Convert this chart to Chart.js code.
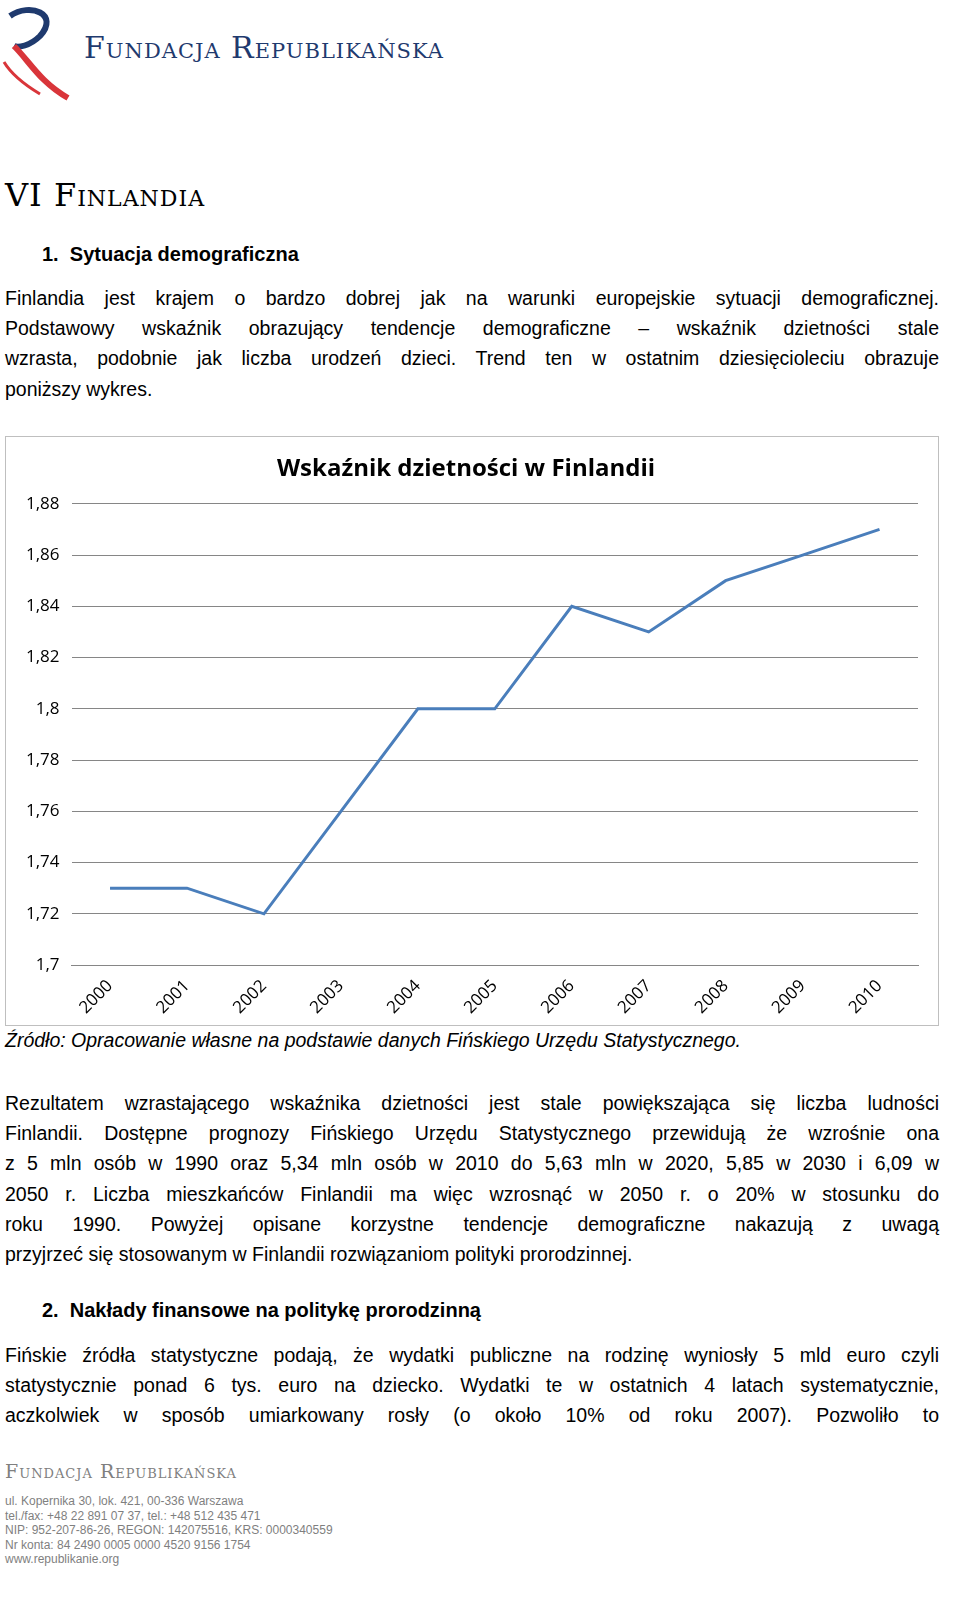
<!DOCTYPE html>
<html><head><meta charset="utf-8">
<script src="https://cdn.jsdelivr.net/npm/chart.js@4"></script>
<style>
body{margin:0;width:960px;height:1597px;background:#fff;font-family:"Liberation Sans",Arial,sans-serif;color:#000;position:relative;overflow:hidden}
.abs{position:absolute}
p{margin:0}
.txt{font-size:19.5px;line-height:30.2px;text-align:justify;left:5px;width:934px}
.txt span{display:block;text-align-last:justify}
.txt span.last{text-align-last:left}
#box{left:5px;top:436px;width:932px;height:588px;border:1px solid #bfbfbf}
.foot{font-size:12px;color:#7f7f7f;line-height:14.6px;left:5px}
</style></head><body>
<svg class="abs" style="left:0;top:2px" width="80" height="100">
  <path d="M10 14 C30 0,60 12,40 34 C30 44,18 46,14 44" stroke="#1f3a6e" stroke-width="6" fill="none"/>
  <path d="M14 44 C30 60,40 80,68 96" stroke="#d9353a" stroke-width="6" fill="none"/>
  <path d="M4 60 C10 70,20 80,40 92" stroke="#d9353a" stroke-width="3" fill="none"/>
</svg>
<div class="abs" style="left:84px;top:30px;font-family:'DejaVu Serif',serif;font-size:30px;color:#1f3a6e;letter-spacing:1px;font-variant:small-caps">Fundacja Republikańska</div>
<div class="abs" style="left:5px;top:176px;font-family:'DejaVu Serif',serif;font-size:32px;font-variant:small-caps;letter-spacing:1px">VI Finlandia</div>
<div class="abs" style="left:42px;top:243px;font-size:20px;font-weight:bold">1.&nbsp;&nbsp;Sytuacja demograficzna</div>
<div class="abs txt" style="top:283px">
<span>Finlandia jest krajem o bardzo dobrej jak na warunki europejskie sytuacji demograficznej.</span>
<span>Podstawowy wskaźnik obrazujący tendencje demograficzne – wskaźnik dzietności stale</span>
<span>wzrasta, podobnie jak liczba urodzeń dzieci. Trend ten w ostatnim dziesięcioleciu obrazuje</span>
<span class="last">poniższy wykres.</span></div>
<div id="box" class="abs"><canvas id="c" width="932" height="588"></canvas></div>
<div class="abs" style="left:5px;top:1029px;font-size:19.5px;font-style:italic">Źródło: Opracowanie własne na podstawie danych Fińskiego Urzędu Statystycznego.</div>
<div class="abs txt" style="top:1088px">
<span>Rezultatem wzrastającego wskaźnika dzietności jest stale powiększająca się liczba ludności</span>
<span>Finlandii. Dostępne prognozy Fińskiego Urzędu Statystycznego przewidują że wzrośnie ona</span>
<span>z 5 mln osób w 1990 oraz 5,34 mln osób w 2010 do 5,63 mln w 2020, 5,85 w 2030 i 6,09 w</span>
<span>2050 r.  Liczba mieszkańców Finlandii ma więc wzrosnąć w 2050 r. o 20% w stosunku do</span>
<span>roku 1990.  Powyżej opisane korzystne tendencje demograficzne nakazują z uwagą</span>
<span class="last">przyjrzeć się stosowanym w Finlandii rozwiązaniom polityki prorodzinnej.</span></div>
<div class="abs" style="left:42px;top:1299px;font-size:20px;font-weight:bold">2.&nbsp;&nbsp;Nakłady finansowe na politykę prorodzinną</div>
<div class="abs txt" style="top:1340px">
<span>Fińskie źródła statystyczne podają, że wydatki publiczne na rodzinę wyniosły 5 mld euro czyli</span>
<span>statystycznie ponad 6 tys. euro  na dziecko.  Wydatki te w ostatnich 4 latach systematycznie,</span>
<span>aczkolwiek w sposób umiarkowany rosły  (o około 10% od roku 2007).  Pozwoliło to</span></div>
<div class="abs" style="left:5px;top:1460px;font-family:'DejaVu Serif',serif;font-size:19px;color:#7f7f7f;font-variant:small-caps;letter-spacing:1px">Fundacja Republikańska</div>
<div class="abs foot" style="top:1494px">ul. Kopernika 30, lok. 421, 00-336 Warszawa<br>tel./fax: +48 22 891 07 37, tel.: +48 512 435 471<br>NIP: 952-207-86-26, REGON: 142075516, KRS: 0000340559<br>Nr konta: 84 2490 0005 0000 4520 9156 1754<br>www.republikanie.org</div>
<script>
const years = ['2000','2001','2002','2003','2004','2005','2006','2007','2008','2009','2010'];
const fertility = [1.73,1.73,1.72,1.76,1.80,1.80,1.84,1.83,1.85,1.86,1.87];

new Chart(document.getElementById('c'), {
  type: 'line',
  data: { labels: years, datasets: [{ data: fertility, borderColor: '#4a7ebb', borderWidth: 3, pointRadius: 0, tension: 0 }] },
  options: {
    responsive: false, animation: false,
    layout: { padding: { left: 8, right: 20, top: 10, bottom: 4 } },
    plugins: {
      legend: { display: false },
      title: { display: true, text: 'Wskaźnik dzietności w Finlandii', color: '#000',
        font: { family: 'Open Sans', size: 24, weight: 'bold' }, padding: { top: 8, bottom: 20 } }
    },
    scales: {
      x: { offset: true, grid: { display: false, drawTicks: true }, border: { color: '#868686' },
        ticks: { color: '#000', maxRotation: 45, minRotation: 45, font: { family: 'Open Sans', size: 17 } } },
      y: { min: 1.7, max: 1.88, grid: { color: '#868686', drawTicks: false }, border: { display: false },
        ticks: { stepSize: 0.02, color: '#000', padding: 12, font: { family: 'Open Sans', size: 17 },
          callback: v => String(Math.round(v * 100) / 100).replace('.', ',') } }
    }
  }
});
</script>
</body></html>
